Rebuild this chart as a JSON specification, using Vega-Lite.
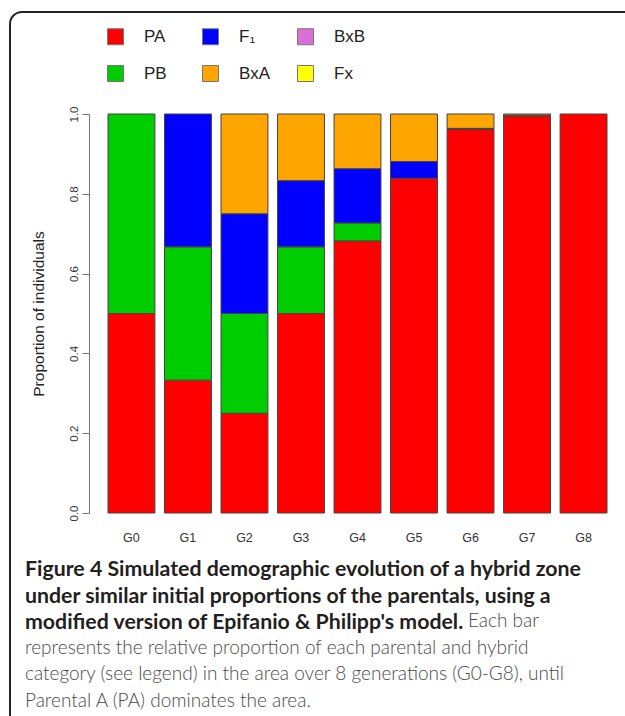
{
  "$schema": "https://vega.github.io/schema/vega-lite/v6.json",
  "width": 900,
  "height": 730,
  "autosize": {"type": "none"},
  "padding": {"left": 10, "top": 12, "right": 0, "bottom": 0},
  "background": "white",
  "config": {"view": {"stroke": "#222", "strokeWidth": 2, "cornerRadius": 12}},
  "title": {
    "text": ["Figure 4 Simulated demographic evolution of a hybrid zone", "under similar initial proportions of the parentals, using a", "modified version of Epifanio & Philipp's model."],
    "subtitle": ["\u200b\u2003\u2003\u2003\u2003\u2003\u2003\u2003\u2003\u2003\u2003\u2003\u2003\u2003\u2003\u2003\u2003\u2003\u2003\u2003\u2003\u2003\u2003\u2003\u2003\u2003\u2003\u2003\u2003\u2003\u2003\u00a0\u00a0\u00a0Each bar", "represents the relative proportion of each parental and hybrid", "category (see legend) in the area over 8 generations (G0-G8), until", "Parental A (PA) dominates the area."],
    "orient": "bottom",
    "anchor": "start",
    "frame": "group",
    "offset": -183,
    "dx": 15,
    "align": "left",
    "baseline": "top",
    "font": "Lato",
    "fontSize": 21.3,
    "fontWeight": "bold",
    "color": "#231f20",
    "lineHeight": 26.5,
    "subtitleFont": "Lato",
    "subtitleFontSize": 19,
    "subtitleFontWeight": 300,
    "subtitleColor": "#4a4a4a",
    "subtitleLineHeight": 26.5,
    "subtitlePadding": -21.3
  },
  "data": {
    "values": [
      {"generation": "G0", "category": "PA", "proportion": 0.5},
      {"generation": "G0", "category": "PB", "proportion": 0.5},
      {"generation": "G1", "category": "PA", "proportion": 0.333},
      {"generation": "G1", "category": "PB", "proportion": 0.334},
      {"generation": "G1", "category": "F₁", "proportion": 0.333},
      {"generation": "G2", "category": "PA", "proportion": 0.25},
      {"generation": "G2", "category": "PB", "proportion": 0.25},
      {"generation": "G2", "category": "F₁", "proportion": 0.25},
      {"generation": "G2", "category": "BxA", "proportion": 0.25},
      {"generation": "G3", "category": "PA", "proportion": 0.5},
      {"generation": "G3", "category": "PB", "proportion": 0.167},
      {"generation": "G3", "category": "F₁", "proportion": 0.166},
      {"generation": "G3", "category": "BxA", "proportion": 0.167},
      {"generation": "G4", "category": "PA", "proportion": 0.682},
      {"generation": "G4", "category": "PB", "proportion": 0.045},
      {"generation": "G4", "category": "F₁", "proportion": 0.136},
      {"generation": "G4", "category": "BxA", "proportion": 0.137},
      {"generation": "G5", "category": "PA", "proportion": 0.839},
      {"generation": "G5", "category": "F₁", "proportion": 0.042},
      {"generation": "G5", "category": "BxA", "proportion": 0.119},
      {"generation": "G6", "category": "PA", "proportion": 0.961},
      {"generation": "G6", "category": "F₁", "proportion": 0.003},
      {"generation": "G6", "category": "BxA", "proportion": 0.036},
      {"generation": "G7", "category": "PA", "proportion": 0.995},
      {"generation": "G7", "category": "F₁", "proportion": 0.002},
      {"generation": "G7", "category": "BxA", "proportion": 0.003},
      {"generation": "G8", "category": "PA", "proportion": 1.0}
    ]
  },
  "transform": [
    {"calculate": "indexof(['PA','PB','F₁','BxA','BxB','Fx'], datum.category)", "as": "stackOrder"}
  ],
  "mark": {"type": "bar", "stroke": "#444", "strokeWidth": 1},
  "encoding": {
    "x": {
      "field": "generation",
      "type": "nominal",
      "sort": null,
      "scale": {"range": [98, 597], "paddingInner": 0.17, "paddingOuter": 0},
      "axis": {
        "orient": "bottom",
        "offset": -229,
        "title": null,
        "domain": false,
        "ticks": false,
        "tickSize": 0,
        "labelAngle": 0,
        "labelPadding": 18,
        "labelFont": "Liberation Sans",
        "labelFontSize": 12.5,
        "labelColor": "#333",
        "labelBaseline": "top"
      }
    },
    "y": {
      "field": "proportion",
      "type": "quantitative",
      "stack": "zero",
      "scale": {"domain": [0, 1], "range": [501, 102], "nice": false},
      "axis": {
        "orient": "left",
        "offset": -79,
        "values": [0, 0.2, 0.4, 0.6, 0.8, 1.0],
        "format": ".1f",
        "grid": false,
        "domainColor": "#777",
        "tickColor": "#777",
        "tickSize": 7,
        "labelAngle": -90,
        "labelAlign": "center",
        "labelBaseline": "bottom",
        "labelPadding": 3,
        "labelFont": "Liberation Sans",
        "labelFontSize": 11.5,
        "labelColor": "#333",
        "title": "Proportion of individuals",
        "titleFont": "Liberation Sans",
        "titleFontSize": 15.5,
        "titleFontWeight": "normal",
        "titleColor": "#222",
        "titlePadding": 22
      }
    },
    "color": {
      "field": "category",
      "type": "nominal",
      "scale": {
        "domain": ["PA", "F₁", "BxB", "PB", "BxA", "Fx"],
        "range": ["#FF0000", "#0000FF", "#DA70D6", "#00CD00", "#FFA500", "#FFFF00"]
      },
      "legend": {
        "orient": "none",
        "legendX": 97,
        "legendY": 16,
        "title": null,
        "columns": 3,
        "direction": "horizontal",
        "symbolType": "square",
        "symbolSize": 256,
        "symbolStrokeColor": "#777",
        "symbolStrokeWidth": 1,
        "symbolOpacity": 1,
        "labelFont": "Liberation Sans",
        "labelFontSize": 17,
        "labelColor": "#222",
        "labelOffset": 20,
        "columnPadding": 24,
        "rowPadding": 16,
        "gridAlign": "all",
        "padding": 0
      }
    },
    "order": {"field": "stackOrder", "type": "quantitative", "sort": "ascending"}
  }
}
